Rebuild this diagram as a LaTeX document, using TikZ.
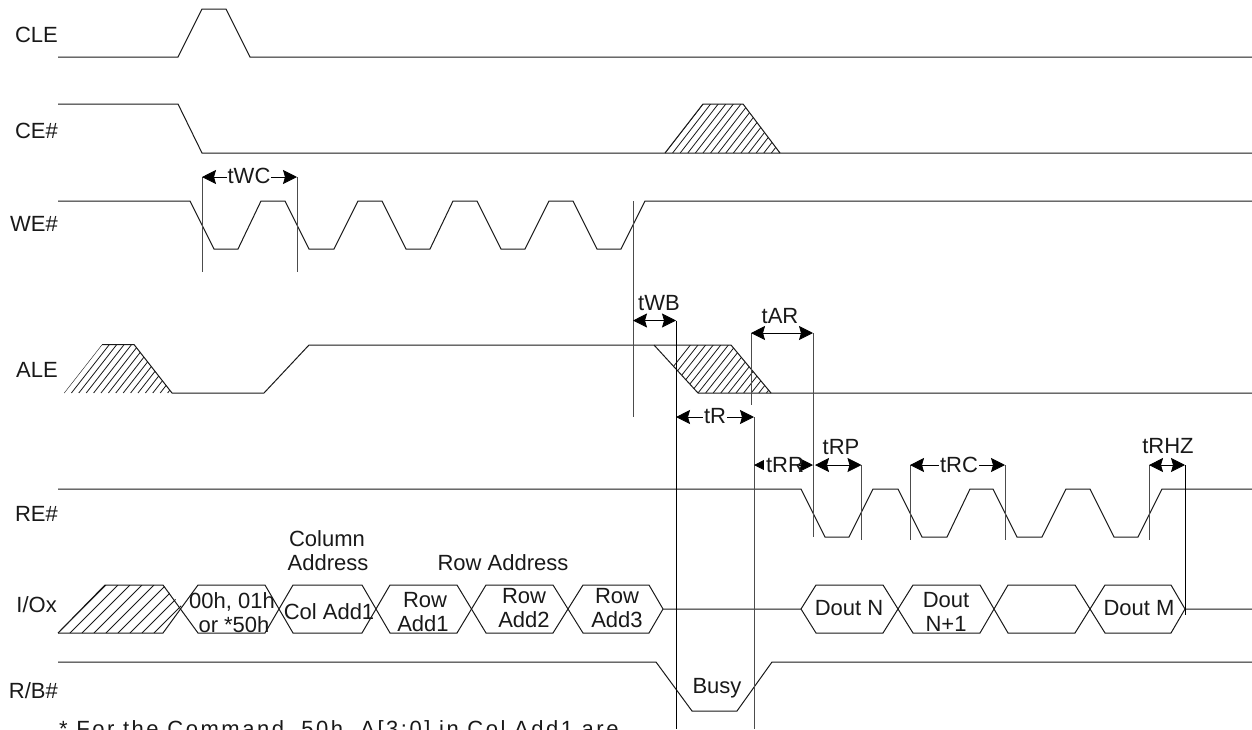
\documentclass[tikz,border=0pt]{standalone}
\usepackage{fontspec}
\setmainfont{Liberation Sans}
\usetikzlibrary{arrows.meta}
\tikzset{
  sig/.style={draw=black!90,line width=1pt,line join=miter},
  hatchline/.style={draw=black!90,line width=0.8pt},
  guide/.style={draw=black!70,line width=1pt},
  dimarrow/.style={draw=black,line width=0.8pt,{Stealth[length=14pt,width=14pt,inset=2pt]}-{Stealth[length=14pt,width=14pt,inset=2pt]}},
  lab/.style={inner sep=0pt,anchor=base,font=\fontsize{22}{24}\selectfont,text=black!90},
  signame/.style={lab,anchor=base east},
  dimlab/.style={lab,fill=white,inner xsep=1pt,inner ysep=1pt}
}
\begin{document}
\begin{tikzpicture}[x=1pt,y=-1pt]
\useasboundingbox (0,0) rectangle (1252,729);
\clip (0,0) rectangle (1252,729);
% hatches
\begin{scope}
\clip (64,393)--(102,344.5)--(134,344.5)--(172,393)--cycle;
\foreach \i in {0,...,15} \draw[hatchline] ({64+7.4*\i},393)--++(38,-48.5);
\end{scope}
\begin{scope}
\clip (665,153)--(703,104)--(743,104)--(780,153)--cycle;
\foreach \i in {0,...,15} \draw[hatchline] ({665+7.6*\i},153)--++(38,-49);
\end{scope}
\begin{scope}
\clip (654,345)--(731,345)--(771,393)--(698,393)--cycle;
\foreach \i in {-6,...,12} \draw[hatchline] ({698+7.6*\i},393)--++(38,-48);
\end{scope}
\begin{scope}
\clip (58,633)--(105,585)--(163,585)--(184,609)--(163,633)--cycle;
\foreach \i in {0,...,10} \draw[hatchline] ({58+12*\i},633)--++(48,-48);
\end{scope}
% waveforms
\draw[sig] (58,57)--(178,57)--(202,9)--(226,9)--(250,57)--(1252,57);
\draw[sig] (58,104)--(178,104)--(202,153)--(1252,153);
\draw[sig] (665,153)--(703,104)--(743,104)--(780,153);
\draw[sig] (58,201)--(190,201)--(214,249)--(238,249)--(261,201)--(285,201)--(309,249)--(334,249)--(358,201)--(382,201)--(406,249)--(430,249)--(453,201)--(477,201)--(501,249)--(525,249)--(549,201)--(573,201)--(597,249)--(621,249)--(645,201)--(1252,201);
\draw[sig] (102,344.5)--(134,344.5)--(172,393)--(264,393)--(309,345)--(731,345)--(771,393)--(1252,393);
\draw[sig] (654,345)--(698,393)--(771,393);
\draw[sig] (58,489)--(801,489)--(825,537)--(849,537)--(873,489)--(898,489)--(922,537)--(947,537)--(970,489)--(993,489)--(1017,537)--(1042,537)--(1066,489)--(1090,489)--(1114,537)--(1138,537)--(1162,489)--(1252,489);
\draw[sig] (58,662)--(656,662)--(692,711)--(737,711)--(772,662)--(1252,662);
% I/O bus
\draw[sig] (58,633)--(105,585)--(163,585)--(198,633)--(265,633)--(293,585)--(362,585)--(390,633)--(457,633)--(486,585)--(553,585)--(583,633)--(649,633)--(663,609)--(801,609)--(816,633)--(883,633)--(913,585)--(980,585)--(1008,633)--(1075,633)--(1105,585)--(1171,585)--(1185,609)--(1252,609);
\draw[sig] (58,633)--(163,633)--(198,585)--(265,585)--(293,633)--(362,633)--(390,585)--(457,585)--(486,633)--(553,633)--(583,585)--(649,585)--(663,609);
\draw[sig] (801,609)--(816,585)--(883,585)--(913,633)--(980,633)--(1008,585)--(1075,585)--(1105,633)--(1171,633)--(1185,609);
% timing guides
\coordinate (wcA) at (202,177); \coordinate (wcB) at (297,177);
\coordinate (wbA) at (633,320.5); \coordinate (wbB) at (676,320.5);
\coordinate (arA) at (751,333); \coordinate (arB) at (813,333);
\coordinate (rA) at (676,417); \coordinate (rB) at (754,417);
\coordinate (rrA) at (754,465); \coordinate (rrB) at (813,465);
\coordinate (rpA) at (815,465); \coordinate (rpB) at (861.5,465);
\coordinate (rcA) at (910,465); \coordinate (rcB) at (1005,465);
\coordinate (hzA) at (1149,465); \coordinate (hzB) at (1185,465);
\draw[guide] (wcA)--(202,272); \draw[guide] (wcB)--(297,272);
\draw[guide] (633,201)--(633,417);
\draw[guide,draw=black] (wbB)--(676,729);
\draw[guide] (arA)--(751,405); \draw[guide] (arB)--(813,537);
\draw[guide] (rB)--(754,729);
\draw[guide] (rpB)--(861.5,540);
\draw[guide] (rcA)--(910,540); \draw[guide] (rcB)--(1005,540);
\draw[guide] (hzA)--(1149,540); \draw[guide,draw=black] (hzB)--(1185,615);
% dimensions
\draw[dimarrow] (wcA)--(wcB);
\draw[dimarrow] (wbA)--(wbB);
\draw[dimarrow] (arA)--(arB);
\draw[dimarrow] (rA)--(rB);
\draw[dimarrow] (rpA)--(rpB);
\draw[dimarrow] (rcA)--(rcB);
\draw[dimarrow] (hzA)--(hzB);
\draw[dimarrow] (rrA)--(rrB);
\fill[white] (764,455) rectangle (799,475);
% signal names
\node[signame] (nCLE) at (58,42) {CLE};
\node[signame] (nCE) at (58,138) {CE\#};
\node[signame] (nWE) at (58,231) {WE\#};
\node[signame] (nALE) at (58,377) {ALE};
\node[signame] (nRE) at (58,521) {RE\#};
\node[signame] (nIO) at (57,612) {I/Ox};
\node[signame] (nRB) at (58,698) {R/B\#};
% timing labels
\node[dimlab] (tWC) at (249,183) {tWC};
\node[lab] (tWB) at (659,310) {tWB};
\node[lab] (tAR) at (780,323) {tAR};
\node[dimlab] (tR) at (715,423) {tR};
\node[lab] (tRR) at (785,472) {tRR};
\node[lab] (tRP) at (841,454) {tRP};
\node[dimlab] (tRC) at (959,472) {tRC};
\node[lab] (tRHZ) at (1168,453) {tRHZ};
% bus labels
\node[lab] (lColumn) at (327,546) {Column};
\node[lab] (lAddress) at (328,570) {Address};
\node[lab] (lRow) at (503,570) {Row Address};
\node[lab] (c1) at (232,608) {00h, 01h};
\node[lab] (c2) at (234,632) {or *50h};
\node[lab] (c3) at (329,619) {Col Add1};
\node[lab] (r1a) at (425,607) {Row};
\node[lab] (r1b) at (423,631) {Add1};
\node[lab] (r2a) at (524,603) {Row};
\node[lab] (r2b) at (524,627) {Add2};
\node[lab] (r3a) at (617,603) {Row};
\node[lab] (r3b) at (617,627) {Add3};
\node[lab] (busy) at (717,693) {Busy};
\node[lab] (d1) at (849,615) {Dout N};
\node[lab] (d2a) at (946,607) {Dout};
\node[lab] (d2b) at (946,631) {N+1};
\node[lab] (d3) at (1139,615) {Dout M};
\node[lab,anchor=base west,font=\fontsize{22}{24}\selectfont\addfontfeature{LetterSpace=11.5}] (note) at (59,736) {* For the Command, 50h, A[3:0] in Col Add1 are};
\end{tikzpicture}
\end{document}
